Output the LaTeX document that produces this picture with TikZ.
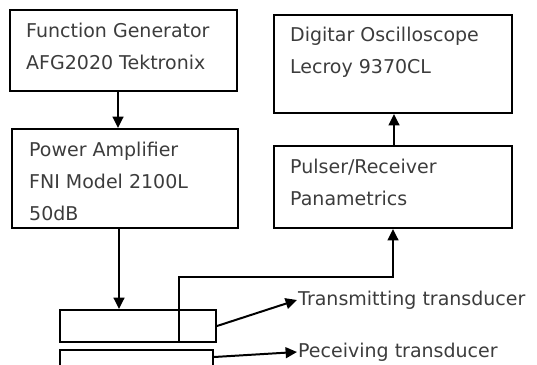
\documentclass[tikz,border=0pt]{standalone}
\usepackage{fontspec}
\setmainfont{DejaVu Sans}
\usetikzlibrary{arrows.meta,positioning}
\definecolor{inkgray}{HTML}{3C3C3C}
\tikzset{
  >={Triangle[length=4mm,width=3.8mm]},
  % bloecke
  blk/.style={draw=black,line width=0.7mm,fill=none,inner sep=0pt},
  btxt/.style={anchor=north west,align=left,inner sep=0pt,text=inkgray,
               font=\fontsize{19}{32}\selectfont},
  sig/.style={->,draw=black,line width=0.7mm},
}
\begin{document}
\begin{tikzpicture}[x=1pt,y=-1pt]
  \useasboundingbox (0,0) rectangle (537,364);
  \clip (0,0) rectangle (537,364);
  % bloecke
  \node[blk,minimum width=227pt,minimum height=81pt] (fg) at (123.5,50.5) {};
  \node[blk,minimum width=226pt,minimum height=99pt] (pa) at (125,178.5) {};
  \node[blk,minimum width=238pt,minimum height=98pt] (osc) at (393,64) {};
  \node[blk,minimum width=238pt,minimum height=82pt] (pr) at (393,187) {};
  \node[blk,minimum width=156pt,minimum height=32pt] (tb) at (138,326) {};
  \node[blk,minimum width=153pt,minimum height=32pt] (rb) at (136.5,366) {};
  % texte
  \node[btxt] (fgt) at (26,23) {Function Generator\\AFG2020 Tektronix};
  \node[btxt] (pat) at (29,142) {Power Amplifier\\FNI Model 2100L\\50dB};
  \node[btxt] (osct) at (290,27) {Digitar Oscilloscope\\Lecroy 9370CL};
  \node[btxt] (prt) at (290,159) {Pulser/Receiver\\Panametrics};
  \node[btxt,anchor=west,inner sep=1pt] (tx) at (297,300) {Transmitting transducer};
  \node[btxt,anchor=west,inner sep=1pt] (rx) at (297,352) {Peceiving transducer};
  \coordinate (tap) at (179,342);
  % verbindungen
  \draw[sig] (fg.south -| 118,0) -- (pa.north -| 118,0);
  \draw[sig] (pa.south -| 119,0) -- (tb.north -| 119,0);
  \draw[sig] (pr.north -| 394,0) -- (osc.south -| 394,0);
  \draw[sig] (tap) |- (393,277) -- (pr.south -| 393,0);
  \draw[sig] (tb.east) -- (tx.west);
  \draw[sig] ([yshift=-8pt]rb.north east) -- (rx.west);
\end{tikzpicture}
\end{document}
